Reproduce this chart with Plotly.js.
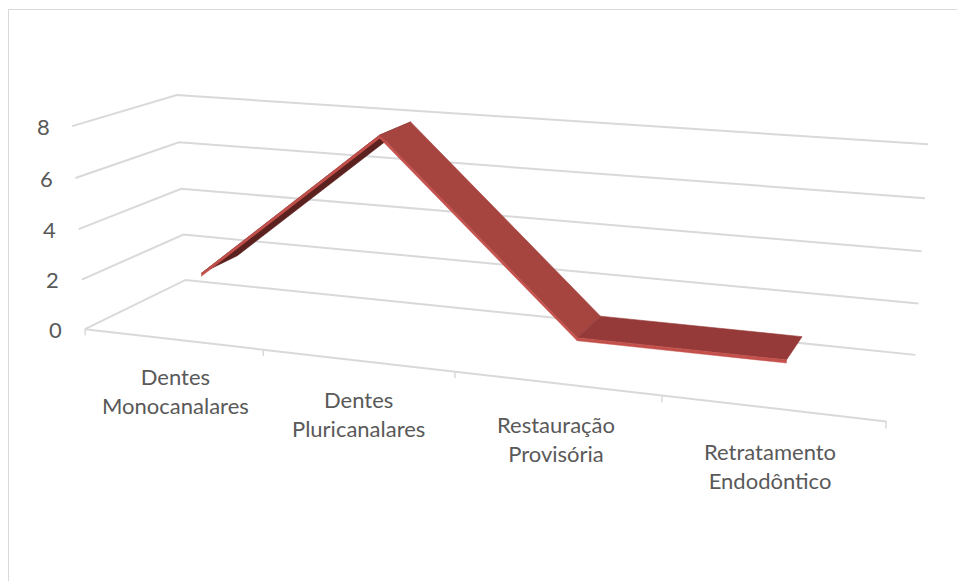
<!DOCTYPE html>
<html>
<head>
<meta charset="utf-8">
<script src="https://cdn.plot.ly/plotly-3.0.1.min.js"></script>
<style>
  html, body { margin: 0; padding: 0; background: #fff; overflow: hidden; }
  #frame { position: absolute; left: 8px; top: 9px; width: 1000px; height: 700px; border-left: 1px solid #d9d9d9; border-top: 1px solid #d9d9d9; }
  #chart { position: absolute; left: 0; top: 0; width: 957px; height: 581px; }
</style>
</head>
<body>
<div id="frame"></div>
<div id="chart"></div>
<script>
// ---------- data ----------
const categories = ["Dentes<br>Monocanalares", "Dentes<br>Pluricanalares", "Restauração<br>Provisória", "Retratamento<br>Endodôntico"];
const values = [2, 8, 1, 1];
const zTicks = [0, 2, 4, 6, 8];

// ---------- 3D view (Excel-like perspective), fitted to the plot box ----------
// box: category axis c in [-0.5, n-0.5], value axis v in [0, 8], depth d in [0 (front), 1 (back)]
const cMin = -0.5, cMax = categories.length - 0.5, vMax = 8;
const calib = [
  [cMin, 0, 1, 185, 280], [cMin, vMax, 1, 177, 95], [cMin, 4, 1, 182, 189],
  [cMax, 0, 1, 915, 356], [cMax, vMax, 1, 928, 143], [cMax, 4, 1, 922, 251],
  [cMin, 0, 0, 85, 328], [cMin, vMax, 0, 72, 127], [cMin, 4, 0, 78, 230],
  [cMax, 0, 0, 885, 422], [0.5, 0, 0, 263, 349], [1.5, 0, 0, 455, 371], [2.5, 0, 0, 664, 396]
];
function solve(A, b) {
  const n = b.length, M = A.map((r, i) => r.concat([b[i]]));
  for (let i = 0; i < n; i++) {
    let p = i;
    for (let k = i + 1; k < n; k++) if (Math.abs(M[k][i]) > Math.abs(M[p][i])) p = k;
    [M[i], M[p]] = [M[p], M[i]];
    for (let k = i + 1; k < n; k++) {
      const f = M[k][i] / M[i][i];
      for (let j = i; j <= n; j++) M[k][j] -= f * M[i][j];
    }
  }
  const x = new Array(n).fill(0);
  for (let i = n - 1; i >= 0; i--) {
    let s = M[i][n];
    for (let j = i + 1; j < n; j++) s -= M[i][j] * x[j];
    x[i] = s / M[i][i];
  }
  return x;
}
function fitProjection(pts) {
  const rows = [], rhs = [];
  pts.forEach(([c, v, d, u, w]) => {
    u /= 100; w /= 100;
    rows.push([c, v, d, 1, 0, 0, 0, 0, -u * c, -u * v, -u * d]); rhs.push(u);
    rows.push([0, 0, 0, 0, c, v, d, 1, -w * c, -w * v, -w * d]); rhs.push(w);
  });
  const N = 11, AtA = [], Atb = [];
  for (let i = 0; i < N; i++) {
    AtA.push(new Array(N).fill(0)); Atb.push(0);
    for (let r = 0; r < rows.length; r++) {
      Atb[i] += rows[r][i] * rhs[r];
      for (let j = 0; j < N; j++) AtA[i][j] += rows[r][i] * rows[r][j];
    }
  }
  return solve(AtA, Atb);
}
const P = fitProjection(calib);
function proj(c, v, d) {
  const den = P[8] * c + P[9] * v + P[10] * d + 1;
  return [100 * (P[0] * c + P[1] * v + P[2] * d + P[3]) / den,
          100 * (P[4] * c + P[5] * v + P[6] * d + P[7]) / den];
}

// ---------- traces ----------
const traces = [];
const gridStyle = { color: '#d9d9d9', width: 2 };

// value gridlines on side wall and back wall
zTicks.forEach(v => {
  const pts = [proj(cMin, v, 0), proj(cMin, v, 1), proj(cMax, v, 1)];
  traces.push({ type: 'scatter', mode: 'lines', x: pts.map(p => p[0]), y: pts.map(p => p[1]),
    line: gridStyle, hoverinfo: 'skip' });
});
// category axis line with tick marks
{
  const a = proj(cMin, 0, 0), b = proj(cMax, 0, 0);
  traces.push({ type: 'scatter', mode: 'lines', x: [a[0], b[0]], y: [a[1], b[1]], line: gridStyle, hoverinfo: 'skip' });
  const tx = [], ty = [];
  for (let c = cMin; c <= cMax + 1e-9; c += 1) {
    const p0 = proj(c, 0, 0), p1 = proj(c, -0.25, 0);
    tx.push(p0[0], p1[0], null); ty.push(p0[1], p1[1], null);
  }
  traces.push({ type: 'scatter', mode: 'lines', x: tx, y: ty, line: { color: '#d9d9d9', width: 1.5 }, hoverinfo: 'skip' });
}

// ribbon (3D line)
const dFront = 0.31, dBack = 0.69, thick = 0.12;
function mix(c1, c2, t) {
  const a = [1, 3, 5].map(i => parseInt(c1.substr(i, 2), 16));
  const b = [1, 3, 5].map(i => parseInt(c2.substr(i, 2), 16));
  return 'rgb(' + a.map((x, i) => Math.round(x + (b[i] - x) * t)).join(',') + ')';
}
for (let i = 0; i < values.length - 1; i++) {
  const fl = proj(i, values[i], dFront), fr = proj(i + 1, values[i + 1], dFront);
  const br = proj(i + 1, values[i + 1], dBack), bl = proj(i, values[i], dBack);
  const ex = fr[0] - fl[0], ey = fr[1] - fl[1], dx = bl[0] - fl[0], dy = bl[1] - fl[1];
  const cross = ex * dy - ey * dx;
  const angle = Math.abs(Math.atan2(ey, ex));
  let col;
  if (cross > 0) col = '#5a211f';
  else col = mix('#923937', '#a6443f', Math.min(1, angle / 0.8));
  const poly = [fl, fr, br, bl, fl];
  traces.push({ type: 'scatter', mode: 'lines', x: poly.map(p => p[0]), y: poly.map(p => p[1]),
    fill: 'toself', fillcolor: col, line: { color: col, width: 0.6 }, hoverinfo: 'skip' });
}
for (let i = 0; i < values.length - 1; i++) {
  const a = proj(i, values[i], dFront), b = proj(i + 1, values[i + 1], dFront);
  const c = proj(i + 1, values[i + 1] - thick, dFront), d = proj(i, values[i] - thick, dFront);
  const poly = [a, b, c, d, a];
  traces.push({ type: 'scatter', mode: 'lines', x: poly.map(p => p[0]), y: poly.map(p => p[1]),
    fill: 'toself', fillcolor: '#c4504c', line: { color: '#c4504c', width: 0.4 }, hoverinfo: 'skip' });
}

// ---------- labels ----------
const textFont = { family: 'Lato, "Open Sans", sans-serif', size: 22, color: '#595959' };
const annotations = [];
zTicks.forEach(v => {
  const p = proj(cMin, v, 0);
  annotations.push({ x: p[0], y: p[1], xref: 'x', yref: 'y', text: String(v), showarrow: false,
    xanchor: 'center', yanchor: 'middle', xshift: -29, font: textFont });
});
categories.forEach((c, i) => {
  const p = proj(i, -2.1, 0);
  annotations.push({ x: p[0], y: p[1], xref: 'x', yref: 'y', text: c, showarrow: false,
    xanchor: 'center', yanchor: 'middle', font: textFont });
});

const layout = {
  width: 957, height: 581,
  margin: { l: 0, r: 0, t: 0, b: 0 },
  paper_bgcolor: 'rgba(0,0,0,0)', plot_bgcolor: 'rgba(0,0,0,0)',
  showlegend: false,
  xaxis: { range: [0, 957], visible: false, fixedrange: true },
  yaxis: { range: [581, 0], visible: false, fixedrange: true },
  annotations: annotations
};

Plotly.newPlot('chart', traces, layout, { displayModeBar: false, staticPlot: true });
</script>
</body>
</html>
